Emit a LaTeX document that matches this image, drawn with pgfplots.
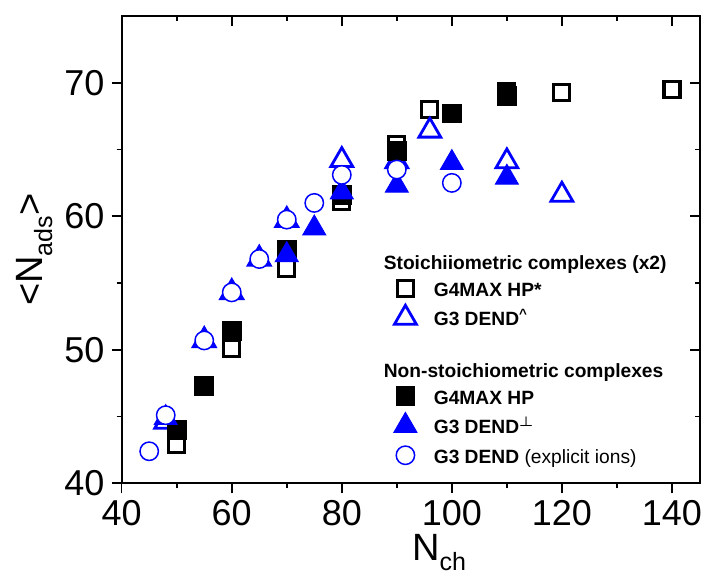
\documentclass[border=0pt]{standalone}
\usepackage{fontspec}
\setmainfont{Liberation Sans}
\usepackage{pgfplots}
\pgfplotsset{compat=1.18}
\newcommand\sub[1]{\raisebox{-5bp}{\fontsize{12.5bp}{12.5bp}\selectfont #1}}
\newcommand\lst{\rule[-3bp]{0pt}{13bp}}
\begin{document}
\begin{tikzpicture}
\path[use as bounding box] (0,0) rectangle (352bp,287.5bp);
\pgfplotsset{
  base/.style={
    at={(60.85bp,45.85bp)}, anchor=south west, scale only axis,
    width=289.15bp, height=233.65bp,
    xmin=40, xmax=145.1, ymin=40, ymax=75,
    xtick={40,60,...,140}, ytick={40,50,60,70},
    minor x tick num=1, minor y tick num=1,
    major tick length=5bp, minor tick length=2.5bp,
    axis line style={line width=1bp},
    every tick/.style={line width=0.8bp, black},
    tick label style={font=\fontsize{18bp}{18bp}\selectfont, inner sep=3.5bp},
    /pgf/number format/assume math mode=true,
  },
  osq/.style={only marks, mark=square*, mark size=4bp, mark options={draw=black, fill=white, line width=1.6bp}},
  fsq/.style={only marks, mark=square*, mark size=4.7bp, mark options={draw=black, fill=black, line width=0.4bp}},
  otri/.style={only marks, mark=triangle*, mark size=6.3bp, mark options={draw=blue, fill=white, line width=1.4bp}},
  ftri/.style={only marks, mark=triangle*, mark size=6.6bp, mark options={draw=blue, fill=blue, line width=0.5bp}},
  ocirc/.style={only marks, mark=*, mark size=4.6bp, mark options={draw=blue, fill=white, line width=0.75bp}},
  limg/.style={legend image code/.code={\draw[##1,overlay] plot coordinates {(7bp,4bp)}; \path[draw=none,fill=none] (0bp,-3bp) rectangle (14bp,10bp);}},
}
\begin{axis}[base,
  xtick pos=left, ytick pos=left, tick align=outside,
  xlabel={N\sub{ch}}, ylabel={<N\sub{ads}>},
  label style={font=\fontsize{19bp}{19bp}\selectfont},
  xlabel style={at={(axis description cs:0.5487,-0.166)}, anchor=base},
  ylabel style={at={(axis description cs:-0.1378,0.5)}, anchor=base},
  legend style={at={(rel axis cs:0.4657,0.5008)}, anchor=north west, draw=none, fill=none,
    inner sep=0pt, row sep=1.8bp, column sep=7.2bp,
    font=\fontsize{9.6bp}{10bp}\selectfont,
    nodes={inner sep=0pt}, cells={anchor=base west}},
]
% G4MAX HP* (stoichiometric, open squares)
\addplot[osq, forget plot] coordinates {(50,42.9) (60,50.1) (70,56.1) (80,61.1) (90,65.4) (96,68.0) (110,69.3) (120,69.25) (140,69.5)};
% G3 DEND^ (stoichiometric, open triangles)
\addplot[otri, forget plot] coordinates {(48,44.6) (55,50.7) (60,54.3) (65,56.8) (70,59.7) (80,64.2) (90,64.1) (96,66.4) (110,64.1) (120,61.6)};
% G4MAX HP (non-stoichiometric, filled squares)
\addplot[fsq, forget plot] coordinates {(50,44.0) (55,47.3) (60,51.4) (70,57.5) (80,61.6) (90,64.9) (100,67.7) (110,69.0)};
% G3 DEND perp (non-stoichiometric, filled triangles)
\addplot[ftri, forget plot] coordinates {(48,44.9) (70,57.1) (75,59.1) (80,61.8) (90,62.3) (100,64.0) (110,62.9)};
% G3 DEND explicit ions (open circles)
\addplot[ocirc, forget plot] coordinates {(45,42.4) (48,45.1) (55,50.7) (60,54.3) (65,56.8) (70,59.75) (75,61.0) (80,63.1) (90,63.5) (100,62.5)};
% legend
\addlegendimage{empty legend}
\addlegendentry{\hspace*{-25bp}\lst\textbf{Stoichiiometric complexes (x2)}}
\addlegendimage{osq, limg}
\addlegendentry{\lst\textbf{G4MAX HP*}}
\addlegendimage{otri, limg}
\addlegendentry{\lst\textbf{G3 DEND}\textsuperscript{\textbf{\textasciicircum}}}
\addlegendimage{empty legend}
\addlegendentry{\hspace*{-25bp}\rule[-3bp]{0pt}{24bp}\textbf{Non-stoichiometric complexes}}
\addlegendimage{fsq, limg}
\addlegendentry{\lst\textbf{G4MAX HP}}
\addlegendimage{ftri, limg}
\addlegendentry{\lst\textbf{G3 DEND}\textsuperscript{\boldmath$\perp$}}
\addlegendimage{ocirc, limg}
\addlegendentry{\lst\textbf{G3 DEND} (explicit ions)}
\end{axis}
\begin{axis}[base,
  xtick pos=right, ytick pos=right, tick align=inside,
  xticklabels={}, yticklabels={},
]
\end{axis}
\end{tikzpicture}
\end{document}
